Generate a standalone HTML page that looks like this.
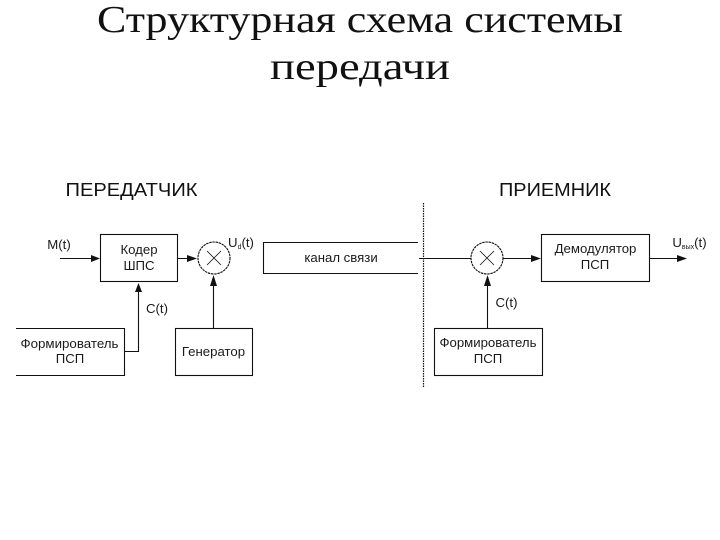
<!DOCTYPE html>
<html lang="ru">
<head>
<meta charset="utf-8">
<title>Структурная схема системы передачи</title>
<style>
html,body{margin:0;padding:0;background:#fff}
svg{display:block}
.s{font-family:"Liberation Sans",sans-serif;font-size:13.2px;fill:#1a1a1a;text-anchor:middle}
.h{font-family:"Liberation Sans",sans-serif;font-size:18px;fill:#111;text-anchor:middle}
.t{font-family:"Liberation Serif",serif;font-size:38px;fill:#111;text-anchor:middle}
.b{font-size:7px}
</style>
</head>
<body>
<svg width="720" height="540" viewBox="0 0 720 540" xmlns="http://www.w3.org/2000/svg">
<text class="t" x="360" y="32" textLength="526" lengthAdjust="spacingAndGlyphs">Структурная схема системы</text>
<text class="t" x="360" y="79" textLength="180" lengthAdjust="spacingAndGlyphs">передачи</text>

<text class="h" x="131.500" y="196" textLength="132" lengthAdjust="spacingAndGlyphs">ПЕРЕДАТЧИК</text>
<text class="h" x="555" y="196" textLength="112" lengthAdjust="spacingAndGlyphs">ПРИЕМНИК</text>

<g fill="none" stroke="#111" stroke-width="1.100">
<rect x="100.500" y="234.500" width="77" height="47"/>
<rect x="175.500" y="328.500" width="77" height="47"/>
<rect x="541.500" y="234.500" width="108" height="47"/>
<rect x="434.500" y="328.500" width="108" height="47"/>
<path d="M16 328.500H124.500V375.500H16"/>
<path d="M418 242.500H263.500V273.500H418"/>
<circle cx="214" cy="258" r="16" stroke-dasharray="2.500 .7"/>
<circle cx="487" cy="258" r="16" stroke-dasharray="2.500 .7"/>
<path d="M207 251L221 265M221 251L207 265M480 251L494 265M494 251L480 265" stroke-width=".8"/>
<path d="M60 258.500H94M177 258.500H192M419 258.500H471M503 258.500H535M649 258.500H681"/>
<path d="M124 351.500H138.500V287M213.500 328V280M487.500 328V280"/>
<path d="M423.500 203V388" stroke-dasharray="1.500 1" stroke-width="1.200"/>
</g>
<g fill="#111">
<path d="M91 255L100 258.500L91 262Z"/>
<path d="M187 255L197 258.500L187 262Z"/>
<path d="M531 255L541 258.500L531 262Z"/>
<path d="M677 255L687 258.500L677 262Z"/>
<path d="M138.500 283L135 292H142Z"/>
<path d="M213.500 275L210 286H217Z"/>
<path d="M487.500 275L484 286H491Z"/>
</g>

<text class="s" x="59" y="249">M(t)</text>
<text class="s" x="139" y="254">Кодер</text>
<text class="s" x="139" y="270">ШПС</text>
<text class="s" x="157" y="313">C(t)</text>
<text class="s" x="69.500" y="348" textLength="98" lengthAdjust="spacingAndGlyphs">Формирователь</text>
<text class="s" x="70" y="363">ПСП</text>
<text class="s" x="213.500" y="356">Генератор</text>
<text class="s" x="241" y="247">U<tspan class="b" dy="2">d</tspan><tspan dy="-2">(t)</tspan></text>
<text class="s" x="341" y="262">канал связи</text>
<text class="s" x="595.500" y="253">Демодулятор</text>
<text class="s" x="595" y="269">ПСП</text>
<text class="s" x="506.500" y="307">C(t)</text>
<text class="s" x="488" y="347" textLength="97" lengthAdjust="spacingAndGlyphs">Формирователь</text>
<text class="s" x="488" y="363">ПСП</text>
<text class="s" x="689.500" y="247">U<tspan class="b" dy="2">вых</tspan><tspan dy="-2">(t)</tspan></text>
</svg>
</body>
</html>
